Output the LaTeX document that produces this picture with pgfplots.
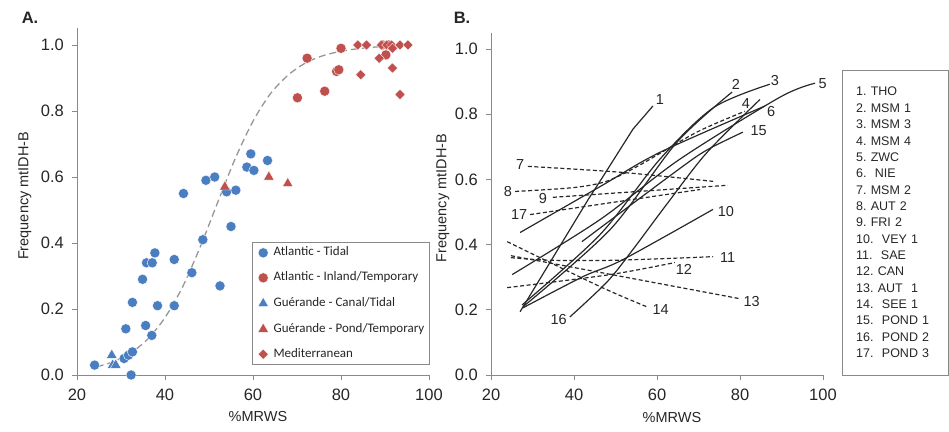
\documentclass[border=0pt]{standalone}
\usepackage{fontspec}
\setmainfont{Liberation Sans}
\newfontfamily\carlito{Carlito}
\usepackage{pgfplots}
\pgfplotsset{compat=1.18}
\definecolor{axgray}{RGB}{137,137,137}
\definecolor{ptblue}{RGB}{74,126,193}
\definecolor{ptred}{RGB}{192,80,77}
\definecolor{fitgray}{RGB}{150,150,150}
\definecolor{linedark}{RGB}{40,40,40}
\tikzset{lab/.style={font=\fontsize{14.5}{16}\selectfont, text=black!85, inner sep=0pt}}
\pgfplotsset{
  myaxis/.style={
    scale only axis, enlargelimits=false,
    xmin=20, xmax=100, ymin=0, ymax=1.05,
    axis lines=left, axis line style={-, draw=axgray, line width=0.9pt},
    tick align=outside, major tick length=5pt,
    tick style={draw=axgray, line width=0.9pt},
    xtick={20,40,60,80,100}, ytick={0,0.2,0.4,0.6,0.8,1.0},
    /pgf/number format/assume math mode=true,
    yticklabel style={/pgf/number format/fixed, /pgf/number format/fixed zerofill, /pgf/number format/precision=1},
    yticklabel style={anchor=east, inner sep=0pt, xshift=-8pt},
    xticklabel style={anchor=north, inner sep=0pt, yshift=-9pt},
    tick label style={font=\fontsize{16.5}{18}\selectfont, text=black!85},
    label style={font=\fontsize{14.5}{16}\selectfont, text=black!85},
    clip=false,
  },
  sl/.style={draw=linedark, line width=1.2pt, no marks},
  dl/.style={sl, dash pattern=on 4pt off 2.5pt},
}
\begin{document}
\begin{tikzpicture}[x=1pt,y=1pt]
\useasboundingbox (0,0) rectangle (949,431);
% ---------------- Panel A ----------------
\begin{axis}[myaxis, at={(77pt,56pt)}, anchor=south west,
  width=352pt, height=346.5pt,
  xlabel={\%MRWS}, ylabel={Frequency mtIDH-B},
  xlabel style={at={(axis description cs:0.514,-0.121)}, anchor=center},
  ylabel style={at={(axis description cs:-0.148,0.517)}, anchor=center},
  legend style={at={(axis description cs:0.497,0.384)}, anchor=north west,
    draw=axgray, line width=0.8pt, font=\carlito\fontsize{13}{15}\selectfont,
    text=black!85, inner xsep=5.5pt, inner ysep=5pt, row sep=14pt, column sep=5pt,
    nodes={inner sep=0pt, text height=8.5pt, text depth=2.5pt}},
  legend cell align=left,
]
\addplot[draw=fitgray, line width=1.3pt, dash pattern=on 7pt off 4pt, smooth, no marks, forget plot]
  coordinates {(24.5,0.025)(28,0.039)(32,0.065)(36,0.108)(40,0.174)(44,0.267)(48,0.388)(52,0.524)(56,0.657)(60,0.769)(64,0.853)(68,0.909)(72,0.946)(76,0.968)(80,0.981)(84,0.989)(88,0.994)(91,0.996)};
\addplot[only marks, mark=*, mark size=5.1pt, mark options={draw=white, line width=0.4pt, fill=ptblue}]
  coordinates {(24.0,0.03)(30.7,0.05)(31.7,0.06)(32.6,0.07)(32.3,0.00)(31.1,0.14)(32.6,0.22)(35.6,0.15)(37.0,0.12)(34.9,0.29)(35.8,0.34)(37.1,0.34)(37.7,0.37)(38.3,0.21)(42.1,0.35)(42.1,0.21)(46.1,0.31)(48.6,0.41)(52.5,0.27)(55.0,0.45)(44.2,0.55)(49.3,0.59)(51.3,0.60)(54.0,0.555)(56.1,0.56)(58.6,0.63)(59.5,0.67)(60.2,0.62)(63.3,0.65)};
\addlegendentry{Atlantic - Tidal}
\addplot[only marks, mark=*, mark size=5.1pt, mark options={draw=white, line width=0.4pt, fill=ptred}]
  coordinates {(70.1,0.84)(72.3,0.96)(76.3,0.86)(79.0,0.92)(79.5,0.925)(80.0,0.99)(90.2,0.97)(89.5,1.0)(90.8,1.0)};
\addlegendentry{Atlantic - Inland/Temporary}
\addplot[only marks, mark=triangle*, mark size=6.2pt, mark options={draw=white, line width=0.4pt, fill=ptblue}]
  coordinates {(27.9,0.06)(28.1,0.03)(28.8,0.03)};
\addlegendentry{Guérande - Canal/Tidal}
\addplot[only marks, mark=triangle*, mark size=6.2pt, mark options={draw=white, line width=0.4pt, fill=ptred}]
  coordinates {(53.6,0.57)(63.6,0.60)(67.9,0.58)};
\addlegendentry{Guérande - Pond/Temporary}
\addplot[only marks, mark=square*, mark size=3.6pt, mark options={rotate=45, draw=white, line width=0.3pt, fill=ptred}]
  coordinates {(83.8,1.0)(85.8,1.0)(89.2,1.0)(90.4,1.0)(91.5,1.0)(93.4,1.0)(95.2,1.0)(91.7,0.99)(88.7,0.96)(91.7,0.93)(84.5,0.91)(93.4,0.85)};
\addlegendentry{Mediterranean}
\end{axis}
% ---------------- Panel B ----------------
\begin{axis}[myaxis, at={(491pt,56pt)}, anchor=south west,
  width=332pt, height=342.3pt,
  xlabel={\%MRWS}, ylabel={Frequency mtIDH-B},
  xlabel style={at={(axis description cs:0.545,-0.123)}, anchor=center},
  ylabel style={at={(axis description cs:-0.145,0.517)}, anchor=center},
]
% solid lines
\addplot[sl] coordinates {(27.0,0.194)(43.4,0.538)(47.0,0.609)(54.2,0.754)(59.0,0.825)}; % 1
\addplot[sl, smooth] coordinates {(27.7,0.209)(48.7,0.446)(64.8,0.714)(78.1,0.868)}; % 2
\addplot[sl, smooth] coordinates {(27.5,0.215)(46.3,0.431)(60.7,0.662)(73.6,0.820)(87.2,0.892)}; % 3
\addplot[sl, smooth] coordinates {(25.1,0.308)(46.3,0.477)(65.5,0.662)(89.6,0.852)(98.1,0.895)}; % 5
\addplot[sl, smooth] coordinates {(27.0,0.437)(46.3,0.578)(60.7,0.683)(86.0,0.825)}; % 6
\addplot[sl, smooth] coordinates {(27.7,0.206)(42.2,0.302)(51.8,0.354)(73.5,0.508)}; % 10
\addplot[sl, smooth] coordinates {(41.9,0.409)(64.7,0.626)(72.0,0.690)(80.7,0.745)}; % 15
\addplot[sl, smooth] coordinates {(39.0,0.178)(48.0,0.286)(54.2,0.385)(62.3,0.523)(72.0,0.682)(84.8,0.845)}; % 16 / 4
% dashed lines
\addplot[dl, smooth] coordinates {(28.9,0.640)(51.1,0.622)(73.5,0.594)}; % 7
\addplot[dl, smooth] coordinates {(25.8,0.563)(40,0.575)(48,0.595)(56,0.645)(69.6,0.745)(81.2,0.809)}; % 8
\addplot[dl] coordinates {(34.9,0.545)(77.1,0.582)}; % 9
\addplot[dl] coordinates {(29.4,0.492)(70.4,0.569)}; % 17
\addplot[dl, smooth] coordinates {(24.8,0.360)(34.2,0.352)(50,0.352)(73.5,0.363)}; % 11
\addplot[dl, smooth] coordinates {(23.9,0.268)(48.7,0.308)(64.3,0.345)}; % 12
\addplot[dl] coordinates {(24.8,0.366)(80.0,0.234)}; % 13
\addplot[dl, smooth] coordinates {(23.9,0.409)(46.3,0.271)(57.6,0.209)}; % 14
% line labels
\node[lab] at (axis cs:60.7,0.846) {1};
\node[lab] at (axis cs:79.0,0.892) {2};
\node[lab] at (axis cs:88.4,0.902) {3};
\node[lab] at (axis cs:81.4,0.834) {4};
\node[lab] at (axis cs:99.9,0.895) {5};
\node[lab] at (axis cs:87.5,0.809) {6};
\node[lab] at (axis cs:27.0,0.646) {7};
\node[lab] at (axis cs:24.1,0.563) {8};
\node[lab] at (axis cs:32.5,0.542) {9};
\node[lab] at (axis cs:76.6,0.502) {10};
\node[lab] at (axis cs:77.0,0.360) {11};
\node[lab] at (axis cs:66.5,0.323) {12};
\node[lab] at (axis cs:82.8,0.225) {13};
\node[lab] at (axis cs:60.9,0.200) {14};
\node[lab] at (axis cs:84.5,0.751) {15};
\node[lab] at (axis cs:36.3,0.169) {16};
\node[lab] at (axis cs:26.8,0.492) {17};
\end{axis}
% panel letters
\node[font=\bfseries\fontsize{16.5}{18}\selectfont, text=black!85] at (30,413) {A.};
\node[font=\bfseries\fontsize{16.5}{18}\selectfont, text=black!85] at (462,413) {B.};
% key of panel B
\draw[axgray, line width=0.8pt] (842,56) rectangle (948,361);
\node[anchor=base west, inner sep=0pt, text width=88pt, align=left,
  font=\fontsize{12.5}{16.35}\selectfont, text=black!85] at (856,335) {%
1.\ THO\\
2.\ MSM 1\\
3.\ MSM 3\\
4.\ MSM 4\\
5.\ ZWC\\
6.\ \ NIE\\
7.\ MSM 2\\
8.\ AUT 2\\
9.\ FRI 2\\
10.\ \ VEY 1\\
11.\ \ SAE\\
12.\ CAN\\
13.\ AUT\ \ 1\\
14.\ \ SEE 1\\
15.\ \ POND 1\\
16.\ \ POND 2\\
17.\ \ POND 3};
\end{tikzpicture}
\end{document}
